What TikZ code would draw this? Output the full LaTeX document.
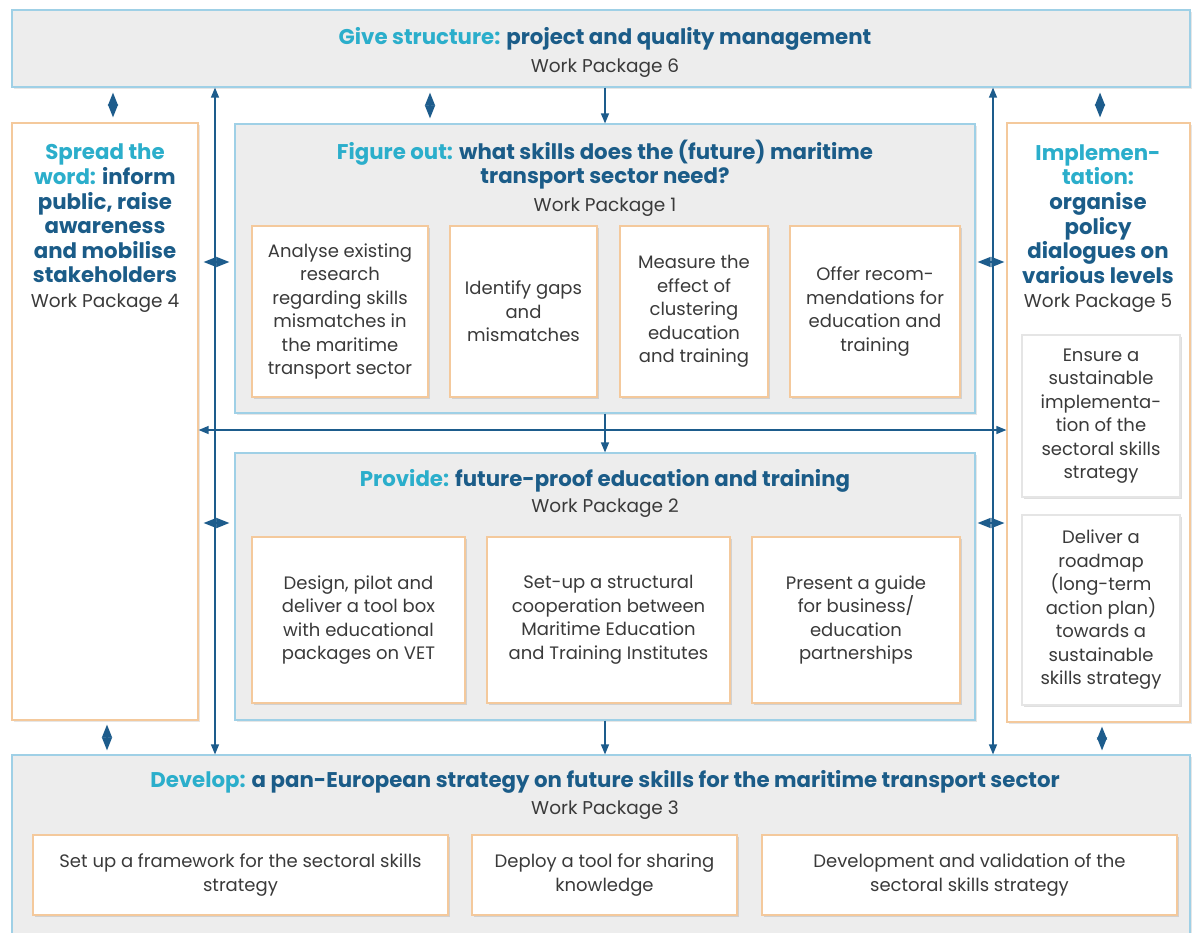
\documentclass[tikz,border=0pt]{standalone}
\usepackage{fontspec}
\setmainfont{Poppins}
\usepackage{xcolor}
\usepackage{tikz}
\usetikzlibrary{arrows.meta,shadows}

\definecolor{headcyan}{HTML}{2BAECB}
\definecolor{headblue}{HTML}{1B5C88}
\definecolor{arrowblue}{HTML}{1D5C8C}
\definecolor{boxblue}{HTML}{9FD0E6}
\definecolor{boxgray}{HTML}{EDEDED}
\definecolor{boxorange}{HTML}{F4C99C}
\definecolor{textgray}{HTML}{3A3A3A}

\newcommand{\headA}[1]{{\color{headcyan}#1}}
\newcommand{\headB}[1]{{\color{headblue}#1}}

\tikzset{
  wpbox/.style={draw=boxblue, fill=boxgray, line width=1.2pt,
    drop shadow={shadow xshift=1.5pt, shadow yshift=-2pt, opacity=.2}},
  sidebox/.style={draw=boxorange, fill=white, line width=1.2pt,
    drop shadow={shadow xshift=1.5pt, shadow yshift=-2pt, opacity=.2}},
  taskbox/.style={draw=boxorange, fill=white, line width=1.2pt, align=center,
    text=textgray, font=\fontsize{18}{23.5}\selectfont,
    drop shadow={shadow xshift=2pt, shadow yshift=-2pt, opacity=.25}},
  greybox/.style={taskbox, draw=black!10},
  head/.style={align=center, font=\fontsize{21.3}{24.6}\selectfont\bfseries},
  pkg/.style={text=textgray, font=\fontsize{18.5}{23}\selectfont},
  flow/.style={draw=arrowblue, line width=1.3pt},
  link/.style={draw=arrowblue, line width=1.3pt,
    {Triangle[length=13pt,width=10pt]}-{Triangle[length=13pt,width=10pt]}}
}

\begin{document}
\begin{tikzpicture}[x=1pt, y=-1pt,
    tip/.style={-{Triangle[length=10pt,width=8pt]}},
    tips/.style={{Triangle[length=10pt,width=8pt]}-{Triangle[length=10pt,width=8pt]}}]
  \useasboundingbox (0, 0) rectangle (1198, 932);

  \node(WP6)[wpbox, minimum width=1178pt, minimum height=77pt] at (601, 48.5) {};
  \node(Head6)[head] at (605, 39) {\headA{Give structure:} \headB{project and quality management}};
  \node(Pkg6)[pkg] at (605, 68) {Work Package 6};

  \node(WP3)[wpbox, minimum width=1178pt, minimum height=190pt] at (601, 850) {};
  \node(Head3)[head] at (605, 782) {\headA{Develop:} \headB{a pan-European strategy on future skills for the maritime transport sector}};
  \node(Pkg3)[pkg] at (605, 810) {Work Package 3};
    \node(Task31)[taskbox, minimum width=415pt, minimum height=80pt] at (240.5, 875) {Set up a framework for the sectoral skills\\strategy};
    \node(Task32)[taskbox, minimum width=265pt, minimum height=80pt] at (604.5, 875) {Deploy a tool for sharing\\knowledge};
    \node(Task33)[taskbox, minimum width=415pt, minimum height=80pt] at (969.5, 875) {Development and validation of the\\sectoral skills strategy};

  \node(WP4)[sidebox, minimum width=186pt, minimum height=597pt] at (105, 421.5) {};
  \node(Head4)[head] at (105, 213.5) {\headA{Spread the}\\\headA{word:} \headB{inform}\\\headB{public, raise}\\\headB{awareness}\\\headB{and mobilise}\\\headB{stakeholders}};
  \node(Pkg4)[pkg] at (105, 303) {Work Package 4};

  \node(WP5)[sidebox, minimum width=183pt, minimum height=599pt] at (1098.5, 422.5) {};
  \node(Head5)[head] at (1098, 214) {\headA{Implemen-}\\\headA{tation:}\\\headB{organise}\\\headB{policy}\\\headB{dialogues on}\\\headB{various levels}};
  \node(Pkg5)[pkg] at (1098, 303) {Work Package 5};
    \node(Task51)[greybox, minimum width=158pt, minimum height=162pt] at (1101, 416) {Ensure a\\sustainable\\implementa-\\tion of the\\sectoral skills\\strategy};
    \node(Task52)[greybox, minimum width=158pt, minimum height=190pt] at (1101, 610) {Deliver a\\roadmap\\(long-term\\action plan)\\towards a\\sustainable\\skills strategy};

  \node(WP1)[wpbox, minimum width=740pt, minimum height=289pt] at (605, 268.5) {};
  \node(Head1)[head] at (605, 164.5) {\headA{Figure out:} \headB{what skills does the (future) maritime}\\\headB{transport sector need?}};
  \node(Pkg1)[pkg] at (605, 207) {Work Package 1};
    \node(Task11)[taskbox, minimum width=176pt, minimum height=171pt] at (340, 311.5) {Analyse existing\\research\\regarding skills\\mismatches in\\the maritime\\transport sector};
    \node(Task12)[taskbox, minimum width=147pt, minimum height=171pt] at (523.5, 311.5) {Identify gaps\\and\\mismatches};
    \node(Task13)[taskbox, minimum width=148pt, minimum height=171pt] at (694, 311.5) {Measure the\\effect of\\clustering\\education\\and training};
    \node(Task14)[taskbox, minimum width=170pt, minimum height=171pt] at (875, 311.5) {Offer recom-\\mendations for\\education and\\training};

  \node(WP2)[wpbox, minimum width=740pt, minimum height=267pt] at (605, 586.5) {};
  \node(Head2)[head] at (605, 481) {\headA{Provide:} \headB{future-proof education and training}};
  \node(Pkg2)[pkg] at (605, 508) {Work Package 2};
    \node(Task21)[taskbox, minimum width=213pt, minimum height=166pt] at (358.5, 620) {Design, pilot and\\deliver a tool box\\with educational\\packages on VET};
    \node(Task22)[taskbox, minimum width=243pt, minimum height=166pt] at (608.5, 620) {Set-up a structural\\cooperation between\\Maritime Education\\and Training Institutes};
    \node(Task23)[taskbox, minimum width=208pt, minimum height=166pt] at (856, 620) {Present a guide\\for business/\\education\\partnerships};

  \coordinate(ColL) at (215, 0);
  \coordinate(ColR) at (993, 0);
  \coordinate(RowMid) at (0, 430);
  \coordinate(LinkA) at (113, 0);
  \coordinate(LinkB) at (430, 0);
  \coordinate(LinkC) at (1100, 0);
  \coordinate(LinkD) at (107, 0);
  \coordinate(LinkE) at (1102, 0);
  \coordinate(RowA) at (0, 262);
  \coordinate(RowB) at (0, 523);

  \draw[flow, tips] (WP6.south -| ColL) -- (WP3.north -| ColL);
  \draw[flow, tips] (WP6.south -| ColR) -- (WP3.north -| ColR);
  \draw[flow, tips] (WP4.east |- RowMid) -- (WP5.west |- RowMid);
  \draw[flow, tip] (WP1.north |- WP6.south) -- (WP1.north);
  \draw[flow, tip] (WP1.south) -- (WP2.north);
  \draw[flow, tip] (WP2.south) -- (WP2.south |- WP3.north);

  \draw[link, shorten <=5pt, shorten >=5pt] (WP6.south -| LinkA) -- (WP4.north -| LinkA);
  \draw[link, shorten <=5pt, shorten >=5pt] (WP6.south -| LinkB) -- (WP1.north -| LinkB);
  \draw[link, shorten <=5pt, shorten >=5pt] (WP6.south -| LinkC) -- (WP5.north -| LinkC);
  \draw[link, shorten <=4pt, shorten >=4pt] (WP4.south -| LinkD) -- (WP3.north -| LinkD);
  \draw[link, shorten <=4pt, shorten >=4pt] (WP5.south -| LinkE) -- (WP3.north -| LinkE);
  \draw[link, shorten <=5pt, shorten >=5pt] (WP4.east |- RowA) -- (WP1.west |- RowA);
  \draw[link, shorten <=2pt, shorten >=2pt] (WP1.east |- RowA) -- (WP5.west |- RowA);
  \draw[link, shorten <=5pt, shorten >=5pt] (WP4.east |- RowB) -- (WP2.west |- RowB);
  \draw[link, shorten <=2pt, shorten >=2pt] (WP2.east |- RowB) -- (WP5.west |- RowB);
\end{tikzpicture}
\end{document}
